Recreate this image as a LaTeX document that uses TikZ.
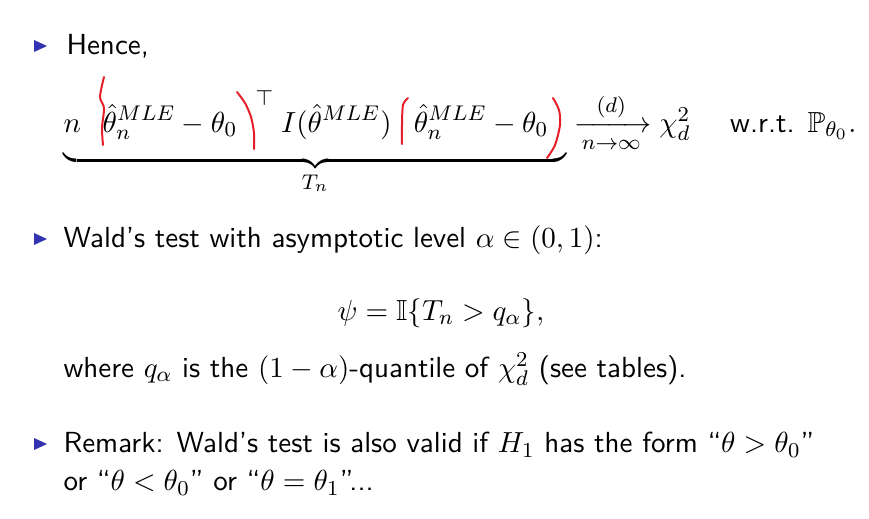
\documentclass[tikz,border=0pt,11pt]{standalone}
\usepackage{amsmath,amssymb}
\definecolor{structblue}{rgb}{0.2,0.2,0.7}
\definecolor{penred}{RGB}{230,30,40}
\tikzset{
	txt/.style={anchor=base west, inner sep=0pt, font=\sffamily},
	redpen/.style={penred, line width=0.75pt, line cap=round}
}
\begin{document}
\begin{tikzpicture}[x=0.377pt, y=-0.377pt]
	\useasboundingbox (0,0) rectangle (869,518);

	\fill[structblue] (34,40) -- (47,46) -- (34,52) -- cycle;
	\node[txt] (hence) at (66,54) {Hence,};

	\node[txt] (stat) at (63,132) {$\underbrace{n\hspace{8.2pt}\hat{\theta}_n^{MLE}-\theta_0\hspace{7pt}\raisebox{10pt}{$\scriptstyle\top$}\hspace{3pt}I(\hat{\theta}^{MLE})\hspace{8.4pt}\hat{\theta}_n^{MLE}-\theta_0\hspace{7pt}\rule[-7pt]{0pt}{7pt}}_{T_n}\xrightarrow[n\to\infty]{(d)}\chi^2_d\hspace{15pt}\text{w.r.t. }\mathbb{P}_{\theta_0}.$};

	\draw[redpen] plot[smooth] coordinates {(104,77) (100,97) (104,108) (102,128) (103,145)};
	\draw[redpen] plot[smooth] coordinates {(237,92) (245,103) (251,117) (254,133) (254,149)};
	\draw[redpen] plot[smooth] coordinates {(408,98) (403,105) (402,125) (402,144)};
	\draw[redpen] plot[smooth] coordinates {(553,98) (559,110) (560,125) (555,145) (547,158)};

	\fill[structblue] (34,233) -- (47,239) -- (34,245) -- cycle;
	\node[txt] (wald) at (63,247) {Wald's test with asymptotic level $\alpha\in(0,1)$:};
	\node[txt] (psi) at (337,320) {$\psi=\mathbb{I}\{T_n>q_\alpha\},$};
	\node[txt] (where) at (63,377) {where $q_\alpha$ is the $(1-\alpha)$-quantile of $\chi^2_d$ (see tables).};

	\fill[structblue] (34,438) -- (47,444) -- (34,450) -- cycle;
	\node[txt] (remark) at (63,452.7) {Remark: Wald's test is also valid if $H_1$ has the form ``$\theta>\theta_0$''};
	\node[txt] (remarktwo) at (63,490.7) {or ``$\theta<\theta_0$'' or ``$\theta=\theta_1$''...};
\end{tikzpicture}
\end{document}
